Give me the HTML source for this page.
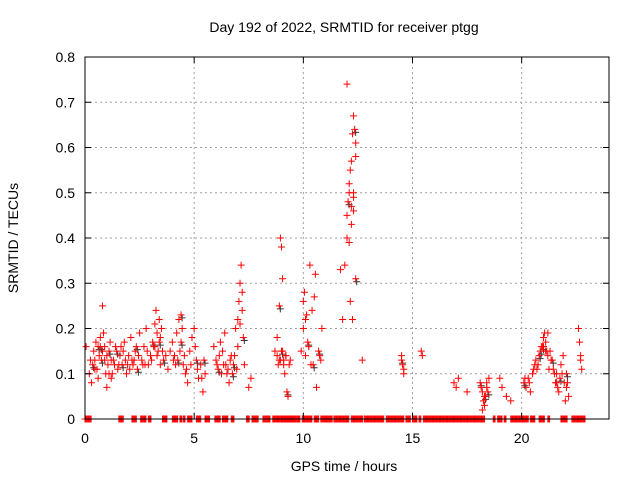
<!DOCTYPE html>
<html><head><meta charset="utf-8"><style>
body{margin:0;background:#fff}
svg{display:block;font-family:"Liberation Sans",sans-serif}
</style></head><body>
<svg id="c" width="640" height="480">
<text x="344" y="32" font-size="14" text-anchor="middle">Day 192 of 2022, SRMTID for receiver ptgg</text>
<text x="344" y="471" font-size="14" text-anchor="middle">GPS time / hours</text>
<text transform="translate(18,238) rotate(-90)" font-size="14" text-anchor="middle">SRMTID / TECUs</text>
<g id="grid"></g><g id="marks"></g><g id="axes"></g>
</svg>
<script>
const xTicks=[0,5,10,15,20];
const yTicks=[0,0.1,0.2,0.3,0.4,0.5,0.6,0.7,0.8];
const yTickLabels=["0","0.1","0.2","0.3","0.4","0.5","0.6","0.7","0.8"];
const hours=[0.05,0.2,0.3,0.35,0.4,0.5,0.55,0.6,0.65,0.7,0.75,0.8,0.85,0.9,0.95,1.0,1.05,1.1,1.15,1.2,1.3,1.4,1.5,1.6,1.7,1.8,1.9,2.0,2.1,2.2,2.3,2.4,2.5,2.6,2.7,2.8,2.9,3.0,3.1,3.2,3.25,3.3,3.35,3.4,3.5,3.6,3.8,3.9,4.0,4.1,4.2,4.3,4.4,4.5,4.6,4.7,4.8,4.9,5.0,5.1,5.2,5.3,5.4,5.5,5.9,6.0,6.1,6.2,6.3,6.4,6.5,6.6,6.7,6.8,6.9,7.0,7.05,7.1,7.15,7.2,7.25,7.3,7.5,7.6,8.7,8.8,8.85,8.9,8.95,9.0,9.05,9.1,9.15,9.2,9.25,9.3,9.4,9.9,10.0,10.05,10.1,10.2,10.3,10.35,10.4,10.5,10.55,10.6,10.7,10.8,10.85,11.7,11.8,11.9,12.0,12.05,12.1,12.15,12.2,12.25,12.0,12.3,12.35,12.4,12.3,12.2,12.15,12.25,12.1,12.4,12.4,12.3,12.7,14.5,14.55,14.6,14.5,15.4,15.45,16.9,17.0,17.1,17.5,18.1,18.15,18.2,18.25,18.3,18.35,18.4,18.45,18.5,18.2,19.0,19.1,19.3,19.5,20.1,20.2,20.3,20.4,20.5,20.6,20.7,20.8,20.9,21.0,21.05,21.1,21.2,21.3,21.4,21.5,21.6,21.7,21.8,21.9,22.0,22.05,22.1,22.6,22.65,22.7,22.75,0.45,0.7,1.25,1.75,2.25,2.75,3.15,3.45,4.25,4.45,6.35,6.85,8.95,9.05,10.15,20.95,21.15,21.25,21.55,21.65,
0.25,0.45,0.6,0.8,0.9,1.0,1.1,1.2,1.35,1.45,1.55,1.65,1.85,1.95,2.05,2.15,2.35,2.45,2.65,2.85,3.05,3.2,3.3,3.4,3.45,3.55,3.7,4.05,4.15,4.35,4.4,4.55,4.65,4.85,5.05,5.15,5.35,5.45,6.05,6.15,6.25,6.45,6.55,6.65,6.75,6.95,7.0,7.1,7.2,8.8,8.9,9.0,9.1,9.2,9.35,10.0,10.1,10.25,10.45,10.75,12.0,12.1,12.2,12.3,14.6,18.3,18.4,20.15,20.35,20.55,20.65,20.75,20.85,21.0,21.1,21.2,21.35,21.45,21.6,21.75,21.85,21.95,22.05,22.15,22.7];
const srmtid=[0.16,0.1,0.08,0.12,0.15,0.17,0.11,0.09,0.14,0.18,0.13,0.25,0.19,0.16,0.1,0.07,0.12,0.15,0.17,0.09,0.13,0.16,0.11,0.14,0.12,0.17,0.1,0.14,0.18,0.12,0.15,0.11,0.19,0.13,0.16,0.2,0.12,0.14,0.17,0.21,0.24,0.19,0.15,0.22,0.2,0.13,0.11,0.15,0.17,0.14,0.19,0.22,0.23,0.12,0.1,0.08,0.15,0.18,0.2,0.13,0.09,0.12,0.06,0.1,0.16,0.13,0.11,0.17,0.15,0.19,0.1,0.08,0.14,0.12,0.2,0.22,0.26,0.3,0.34,0.28,0.18,0.12,0.07,0.09,0.15,0.18,0.12,0.25,0.4,0.38,0.31,0.13,0.1,0.14,0.06,0.05,0.13,0.15,0.26,0.28,0.22,0.17,0.34,0.12,0.24,0.27,0.32,0.07,0.15,0.13,0.2,0.33,0.22,0.34,0.4,0.48,0.5,0.55,0.57,0.63,0.74,0.67,0.64,0.61,0.46,0.47,0.26,0.22,0.39,0.31,0.58,0.5,0.13,0.14,0.12,0.11,0.13,0.15,0.14,0.08,0.07,0.09,0.06,0.08,0.07,0.06,0.04,0.03,0.05,0.08,0.06,0.09,0.02,0.09,0.07,0.05,0.04,0.08,0.07,0.09,0.06,0.1,0.12,0.11,0.14,0.16,0.18,0.19,0.17,0.19,0.15,0.13,0.1,0.08,0.06,0.12,0.14,0.04,0.1,0.08,0.2,0.17,0.14,0.11,0.13,0.16,0.1,0.15,0.13,0.12,0.16,0.18,0.13,0.2,0.12,0.14,0.13,0.15,0.23,0.16,0.15,0.11,0.08,0.07,
0.13,0.11,0.16,0.15,0.13,0.14,0.1,0.13,0.12,0.15,0.12,0.16,0.13,0.12,0.11,0.13,0.16,0.14,0.12,0.15,0.13,0.16,0.14,0.17,0.12,0.15,0.14,0.13,0.12,0.15,0.17,0.14,0.11,0.12,0.16,0.11,0.09,0.13,0.12,0.14,0.1,0.12,0.11,0.13,0.1,0.11,0.16,0.21,0.24,0.14,0.13,0.15,0.12,0.14,0.12,0.2,0.14,0.16,0.12,0.14,0.45,0.52,0.43,0.49,0.1,0.05,0.07,0.09,0.08,0.11,0.13,0.12,0.15,0.16,0.15,0.14,0.13,0.11,0.1,0.09,0.1,0.08,0.07,0.05,0.13];
const zeroStart=[0.0,1.55,2.15,2.55,2.9,3.55,4.0,4.35,4.5,4.7,5.1,5.5,5.95,6.3,6.7,7.4,7.65,8.15,8.6,9.0,9.95,10.5,10.8,11.4,12.2,12.8,13.8,14.7,15.0,15.3,15.5,18.7,18.9,19.2,19.5,20.4,20.8,21.2,21.8,22.3];
const zeroEnd=[0.3,1.75,2.35,2.8,3.05,3.75,4.25,4.45,4.6,4.9,5.3,5.7,6.2,6.55,6.85,7.55,7.95,8.5,9.6,9.85,10.4,10.7,11.35,12.1,12.75,13.7,14.6,14.9,15.2,15.4,18.3,18.8,19.1,19.3,20.3,20.6,21.05,21.3,22.1,22.9];
const NS="http://www.w3.org/2000/svg";
const X0=85,X1=609,Y0=419,Y1=57,HMAX=24;
const xs=h=>X0+(X1-X0)*h/HMAX, ys=v=>Y0-(Y0-Y1)*v/0.8;
function mk(t,a,p){const e=document.createElementNS(NS,t);for(const k in a)e.setAttribute(k,a[k]);p.appendChild(e);return e;}
const grid=document.getElementById('grid'),marks=document.getElementById('marks'),axes=document.getElementById('axes');
xTicks.forEach(t=>{const x=xs(t);
 if(t>0){const g=mk('line',{x1:x,x2:x,y1:Y0,y2:Y1,stroke:'#a0a0a0','stroke-dasharray':'2,3'},grid);
 
 }
 mk('line',{x1:x,x2:x,y1:Y0,y2:Y0-6,stroke:'#000'},axes);
 mk('line',{x1:x,x2:x,y1:Y1,y2:Y1+6,stroke:'#000'},axes);
 const l=mk('text',{x:x,y:Y0+24,'font-size':14,'text-anchor':'middle'},axes);l.textContent=t;
 
 });
yTicks.forEach((t,i)=>{const y=ys(t);
 if(t>0&&t<0.8){const g=mk('line',{x1:X0,x2:X1,y1:y,y2:y,stroke:'#a0a0a0','stroke-dasharray':'2,3'},grid);
 
 }
 mk('line',{x1:X0,x2:X0+6,y1:y,y2:y,stroke:'#000'},axes);
 mk('line',{x1:X1,x2:X1-6,y1:y,y2:y,stroke:'#000'},axes);
 const l=mk('text',{x:X0-10,y:y+5,'font-size':14,'text-anchor':'end'},axes);l.textContent=yTickLabels[i];
 
 });
const fr=mk('rect',{x:X0,y:Y1,width:X1-X0,height:Y0-Y1,fill:'none',stroke:'#000'},axes);


function plus(x,y,c){const p=mk('path',{d:`M${x-3.5} ${y}h7M${x} ${y-3.5}v7`,stroke:c,'stroke-width':1,fill:'none'},marks);return p;}
zeroStart.forEach((s,i)=>{for(let h=s;h<=zeroEnd[i]+1e-9;h+=0.04){const p=plus(xs(h),Y0,'#f00');
 
 }});
hours.forEach((h,i)=>{if(i%7===3){const d=plus(xs(h)+1,ys(srmtid[i])+3,'#333');
 
 }});
hours.forEach((h,i)=>{const p=plus(xs(h),ys(srmtid[i]),'#f00');
 
 });
</script>
</body></html>
